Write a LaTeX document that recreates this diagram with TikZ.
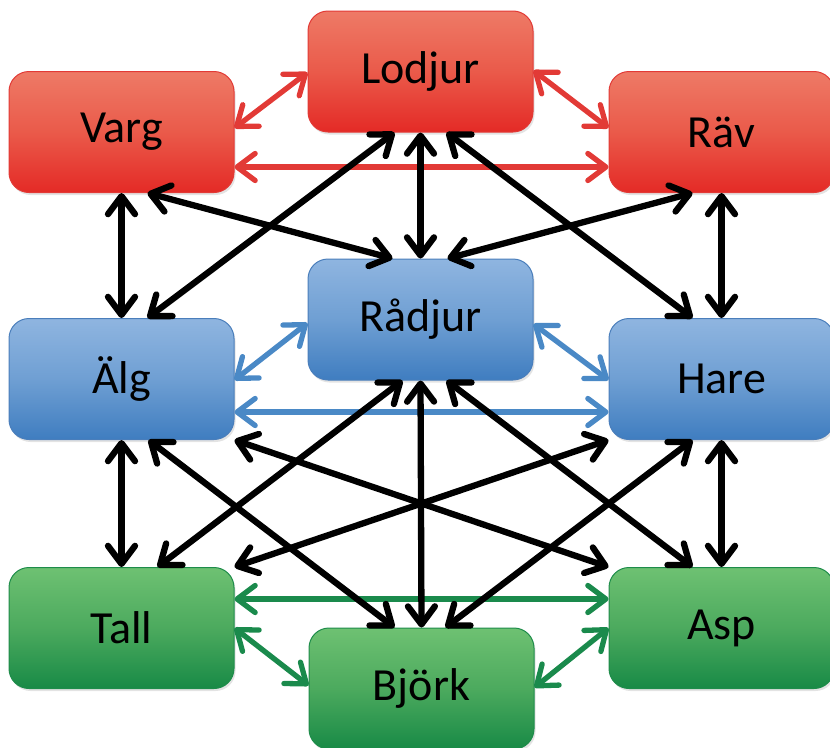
\documentclass[tikz,border=0pt]{standalone}
\usepackage{fontspec}
\setmainfont{Carlito}
\usetikzlibrary{arrows.meta,shadows}
\definecolor{rtop}{HTML}{EE7A66}
\definecolor{rmid}{HTML}{EA5A4A}
\definecolor{rbot}{HTML}{E42A26}
\definecolor{rline}{HTML}{E23A36}
\definecolor{btop}{HTML}{8FB5E0}
\definecolor{bmid}{HTML}{6F9FD3}
\definecolor{bbot}{HTML}{3F7DC0}
\definecolor{bline}{HTML}{4A89C6}
\definecolor{bedge}{HTML}{4A7EBB}
\definecolor{gtop}{HTML}{6EC172}
\definecolor{gmid}{HTML}{4CAA5E}
\definecolor{gbot}{HTML}{188A46}
\definecolor{gline}{HTML}{1A8A4C}
\definecolor{gedge}{HTML}{1E8C4A}
\tikzset{
  box/.style={rounded corners=20pt, minimum width=225pt, minimum height=121pt,
    inner sep=0pt, line width=1pt, font=\fontsize{46}{54}\selectfont,
    drop shadow={shadow xshift=1.5pt, shadow yshift=-2.5pt, opacity=0.22}},
  redbox/.style={box, draw=rline, top color=rtop, bottom color=rbot, middle color=rmid},
  bluebox/.style={box, draw=bedge, top color=btop, bottom color=bbot, middle color=bmid},
  greenbox/.style={box, draw=gedge, top color=gtop, bottom color=gbot, middle color=gmid},
  mytip/.tip={Straight Barb[length=18pt,width=27pt,round]},
  link/.style={draw=black, line width=6.3pt, arrows={mytip-mytip}},
  clink/.style={line width=5.3pt, arrows={mytip-mytip}}
}
\begin{document}
\begin{tikzpicture}[x=1pt,y=-1pt]
\useasboundingbox (0,0) rectangle (830,747);
% nodes
\node[redbox] (varg) at (121.5,132) {Varg};
\node[redbox] (lodjur) at (420.5,71.5) {Lodjur};
\node[redbox] (rav) at (721.5,132) {Räv};
\node[bluebox] (radjur) at (420.5,319.5) {Rådjur};
\node[bluebox] (alg) at (121.5,379) {Älg};
\node[bluebox] (hare) at (721.5,379) {Hare};
\node[greenbox] (tall) at (121.5,628) {Tall};
\node[greenbox] (bjork) at (421.5,688.5) {Björk};
\node[greenbox] (asp) at (721.5,628) {Asp};
% colored links
\draw[clink, rline] ([yshift=4pt]varg.east) -- ([yshift=-1pt]lodjur.west);
\draw[clink, rline] ([yshift=-35pt]varg.east) -- ([yshift=-35pt]rav.west);
\draw[clink, rline] ([yshift=1pt]lodjur.east) -- ([yshift=4pt]rav.west);
\draw[clink, bline] ([yshift=-1pt]alg.east) -- ([yshift=-3.5pt]radjur.west);
\draw[clink, bline] ([yshift=-33pt]alg.east) -- ([yshift=-33pt]hare.west);
\draw[clink, bline] ([yshift=-4.5pt]radjur.east) -- ([yshift=-1pt]hare.west);
\draw[clink, gline] ([yshift=29pt]tall.east) -- ([yshift=29pt]asp.west);
\draw[clink, gline] ([yshift=0pt]tall.east) -- ([yshift=3pt]bjork.west);
\draw[clink, gline] ([yshift=1pt]bjork.east) -- ([yshift=0pt]asp.west);
% black links
\draw[link] (varg.south) -- (alg.north);
\draw[link] ([xshift=26pt]varg.south) -- ([xshift=-28pt]radjur.north);
\draw[link] ([xshift=-26pt]lodjur.south) -- ([xshift=26pt]alg.north);
\draw[link] (lodjur.south) -- (radjur.north);
\draw[link] ([xshift=26pt]lodjur.south) -- ([xshift=-29pt]hare.north);
\draw[link] ([xshift=-29pt]rav.south) -- ([xshift=27pt]radjur.north);
\draw[link] (rav.south) -- (hare.north);
\draw[link] (alg.south) -- (tall.north);
\draw[link] ([xshift=27pt]alg.south) -- ([xshift=-27pt]bjork.north);
\draw[link] (alg.south east) -- (asp.north west);
\draw[link] ([xshift=-18pt]radjur.south) -- ([xshift=36pt]tall.north);
\draw[link] (radjur.south) -- (bjork.north);
\draw[link] ([xshift=26pt]radjur.south) -- ([xshift=-29pt]asp.north);
\draw[link] (hare.south west) -- (tall.north east);
\draw[link] ([xshift=-29pt]hare.south) -- ([xshift=24pt]bjork.north);
\draw[link] (hare.south) -- (asp.north);
\end{tikzpicture}
\end{document}
